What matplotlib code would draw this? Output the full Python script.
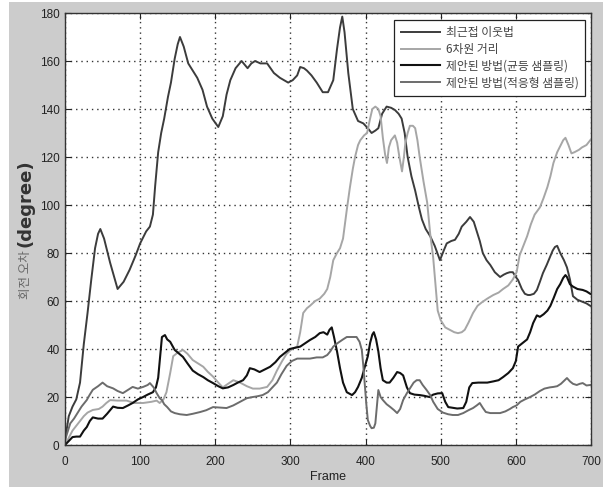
import matplotlib
matplotlib.use("Agg")
import matplotlib.pyplot as plt
from matplotlib.patches import Rectangle

# ---------------- data ----------------
labels = ["최근접 이웃법", "6차원 거리", "제안된 방법(균등 샘플링)", "제안된 방법(적응형 샘플링)"]

nn_frames = [0,5,10,15,20,25,30,35,40,44,47,52,60,70,78,86,94,100,108,113,117,120,124,128,132,137,141,146,150,153,158,164,170,176,183,189,196,204,210,215,220,227,235,243,248,253,260,269,278,286,297,303,309,313,318,322,328,335,343,350,357,362,366,369,372,377,383,390,397,403,408,413,417,422,428,434,439,444,448,452,456,461,466,471,475,480,486,492,499,504,508,514,519,524,528,534,539,544,548,552,556,561,566,572,579,584,588,592,596,600,603,608,612,616,619,624,628,632,636,641,645,649,652,655,659,664,668,672,676,682,689,694,699]
nn_values = [2,12,16,19,26,42,55,69,82,88,90,86,76,65,68,73,79,84,89,91,96,108,122,130,136,145,151,161,167,170,166,159,156,153,148,141,136,132.5,137,146,152,157,160,157,159,160,159,159,155,153,151,152,154,157.5,157,156,154,151,147,147,152,165,174,178.5,172,155,140,135,134,132,130,131,132,138,141,140.5,139.6,138,136,130,120,112,106,99,94,90,87,83,77,81,84,85,85.5,88,91,93,95,93,89,85,80,77,75,72,70,71,71.6,72,72,70,68.7,65,63,62.5,62.5,63,64.6,68,71.6,75,78,81,82.5,83,80,77,74,69,62,60.5,59.6,59,58]

d6_frames = [0,5,10,15,20,25,30,37,45,50,55,60,70,82,92,104,115,122,126,131,135,140,144,150,157,163,170,177,184,190,197,204,210,217,224,233,242,250,259,269,276,282,289,295,302,309,313,317,322,326,333,339,345,349,353,357,362,366,370,375,379,383,386,390,393,398,402,406,409,413,417,420,423,426,428.5,431,434,439,442,445,448.5,451,453,456,459,463,466,469,472,477,482,486,490,493,496,500,506,512,518,523,528,532,537,543,549,555,562,570,577,583,590,596,601,605,610,615,620,625,632,637,642,646,650,655,659,663,666,670,674,678,684,688,694,699]
d6_values = [0,3,6,8,10,12,13.5,14.6,15,16,17.5,18.7,18.5,18.5,17.5,17.5,18,18.5,17.5,19,22,30,37,38.5,39.6,38,35.4,34,32.6,30.5,28.5,26,24,25.5,27,26,24.5,23.5,23.5,24.2,27,31,35,38,40,41,47,55,57,58,60,61,63,65,70,77,80,82,86,98,107,115,120,125,127,129,130,136,140,141,140,137,128,121,117.5,124,127,129,126,120,114,120,126,130,133,133,132,127,120,110,101,88,78,67,56,52,49,48,47,46.6,47,48,51,55,58,59.5,61,62.5,63.5,65,66.5,69,72,79,83,87,92,96,99,103,107.5,112,117.5,122,124.5,127,128,125,121.5,122,123,124,125,127]

uni_frames = [0,3,6,10,15,20,25,29,33,37,44,50,56,64,70,77,84,90,97,104,110,117,121,124,127,129,133,136,140,146,152,157,163,170,177,184,190,197,204,210,217,224,230,237,242,246,252,259,266,273,280,286,293,299,306,313,320,326,333,339,344,349,352,355,358,362,366,370,375,382,386,390,395,399,403,406,409,411,414,417,420,423,428,432,437,442,446,450,455,459,465,472,478,485,490,496,502,506,510,516,522,530,534,538,542,550,556,562,570,577,583,590,596,600,603,609,615,619,623,628,632,637,642,646,650,655,659,663,666,668,672,676,682,689,694,699]
uni_values = [0,1,2,3.3,3.5,3.5,6,7.5,10,11.5,11,11,13,16,15.5,15.4,16.5,17.5,19,20,21,22,24,28,38,45,45.8,44,43,39.6,38,36.7,34,31,29.5,28.3,27,25.8,24.5,23.6,24,25,26,27,29,32,31.5,30.4,31.5,32.6,34.5,36.7,38.5,40,40.5,41,42.5,43.75,45,46.6,47,46,48,49,45,39,32,26,22,20.8,22,24.2,28,32.6,37,42.5,46,47,44,39,32,27,26,26,28,30.4,30,29,24,21.6,21,20.8,20.5,20,21,21.5,21.6,18,15.8,15.5,15.2,15.4,18,24,25.8,26,26,26,26.5,27,28.3,30,32,35,41,42.5,44,47,50.8,54,53.4,54.5,56,58,61,65,67,69.6,70.8,70,67,66,65,64.6,64,63]

ada_frames = [0,3,7,12,16,22,29,33,37,44,50,56,64,70,77,84,90,97,104,110,113,118,122,126,129,132,136,141,146,153,162,170,180,188,197,206,215,224,233,242,250,256,263,270,276,282,288,295,302,309,318,326,335,343,349,353,357,363,370,375,382,388,392,395,397,399,401,403,406,408,411,413,415,417,420,423,428,433,438,442,446,450,455,460,464,468,472,476,481,486,490,496,503,510,516,523,530,537,543,548,552,556,560,566,572,579,586,592,596,601,606,612,619,625,632,638,645,650,655,660,665,668,672,676,681,685,689,694,699]
ada_values = [2,5,9,11,13,16,18.75,21,23,24.5,26,24.5,23.6,22.5,21.6,23,24.2,23.5,24.2,25,25.8,24,21.6,19.5,18.75,17,15.8,14,13.3,12.8,12.5,13,13.75,14.5,15.8,15.6,15.4,16.5,18,19.5,20,20.3,20.8,22,24,26,29.5,33,35,36,36,36,36.5,36.5,37.5,39,41,42.5,44,45,45,45,43,39.6,33,25,17,10.4,8,7,7.2,9,16,22.9,20,18.75,17,15.8,14.5,13.3,15,18.75,21.6,24,26,27,27,25,23,20.8,18,15,13.5,12.8,12.5,12.5,13.3,14.5,15.4,16.5,17.5,15.5,13.75,13.3,13.3,13.3,14,15,15.8,16.5,18,19,20,21,22.5,23.5,24,24.2,24.5,25.5,27,27.9,26.5,25.5,25,25.5,25.8,24.8,25]

x_ticks = [0, 100, 200, 300, 400, 500, 600, 700]
y_ticks = [0, 20, 40, 60, 80, 100, 120, 140, 160, 180]

# ---------------- figure ----------------
W, H = 608, 487
fig = plt.figure(figsize=(W / 100, H / 100), dpi=100, facecolor="white")
fig.patches.append(Rectangle((9 / W, 0), (603 - 9) / W, (485) / H,
                             transform=fig.transFigure, facecolor="#cccccc",
                             edgecolor="none", zorder=-10))

ax = fig.add_axes([65 / W, 1 - 445 / H, (591 - 65) / W, (445 - 13) / H])
ax.set_facecolor("white")

series = [
    (nn_frames, nn_values, "#3c3c3c", 1.4),
    (d6_frames, d6_values, "#a6a6a6", 1.4),
    (uni_frames, uni_values, "#111111", 1.5),
    (ada_frames, ada_values, "#6c6c6c", 1.4),
]
for (fx, fy, col, lw), lab in zip(series, labels):
    ax.plot(fx, fy, color=col, lw=lw, label=lab)

ax.set_xlim(0, 700)
ax.set_ylim(0, 180)
ax.set_xticks(x_ticks)
ax.set_yticks(y_ticks)
ax.grid(True, color="#333333", linestyle=(0, (1, 2.8)), linewidth=1.0)
ax.tick_params(direction="in", length=4, width=0.8, top=True, right=True,
               labelsize=8.5, colors="#222222")
ax.tick_params(axis="x", pad=8)
ax.tick_params(axis="y", pad=4)
for lab in ax.get_xticklabels() + ax.get_yticklabels():
    lab.set_family("Liberation Sans")
for sp in ax.spines.values():
    sp.set_color("#333333")
    sp.set_linewidth(1.0)

ax.set_xlabel("Frame", fontsize=9, family="Liberation Sans", color="#222222", labelpad=2)

fig.text(26 / W, 1 - 203 / H, "(degree)", rotation=90, ha="center", va="center",
         fontsize=13, fontweight="bold", family="DejaVu Sans", color="#333333")
fig.text(26 / W, 1 - 275 / H, "회전 오차", rotation=90, ha="center", va="center",
         fontsize=9, family=["Noto Sans CJK KR", "DejaVu Sans"], color="#666666")

leg = ax.legend(loc="upper right", bbox_to_anchor=((585 - 65) / (591 - 65), (445 - 20) / 432),
                borderaxespad=0, fancybox=False, framealpha=1, edgecolor="#222222",
                prop={"family": ["Noto Sans CJK KR", "DejaVu Sans"], "size": 8.5},
                handlelength=3.3, handletextpad=0.5, labelspacing=0.3,
                borderpad=0.55)
leg.get_frame().set_linewidth(0.9)
for t in leg.get_texts():
    t.set_color("#444444")

fig.savefig("out.png", dpi=100, facecolor=fig.get_facecolor())
